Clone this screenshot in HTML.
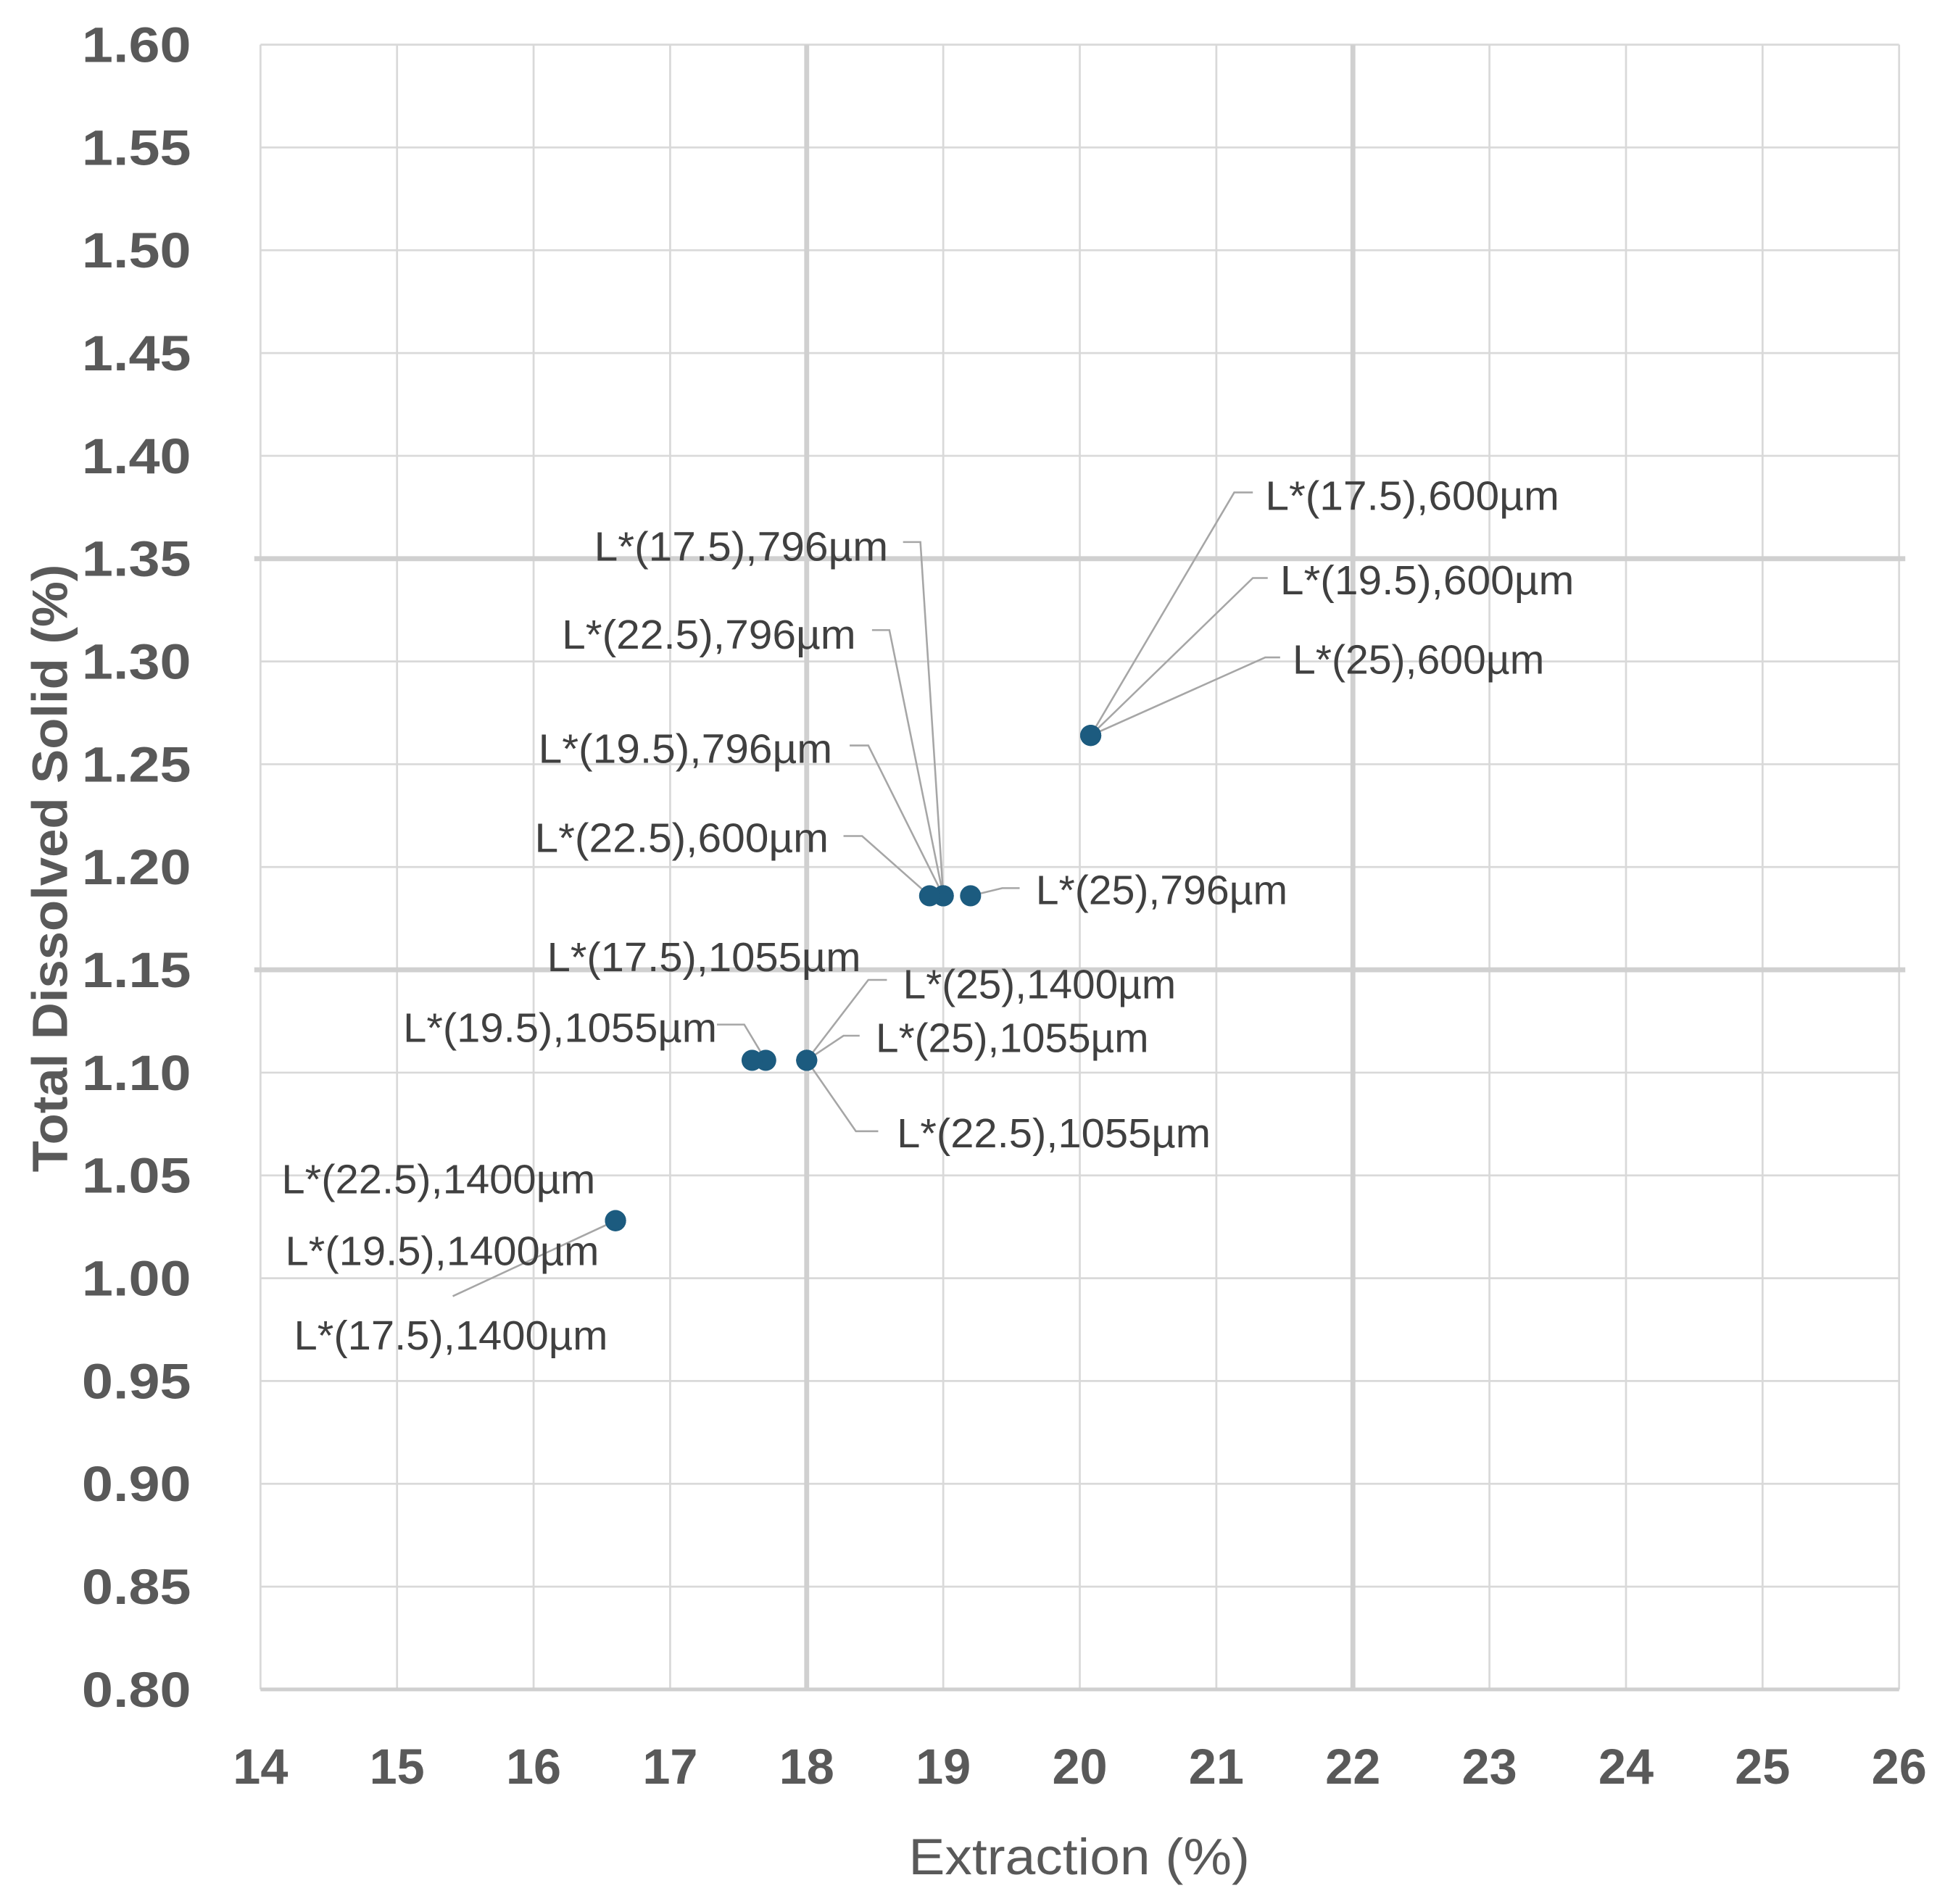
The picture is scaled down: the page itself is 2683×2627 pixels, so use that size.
<!DOCTYPE html>
<html><head><meta charset="utf-8"><style>
html,body{margin:0;padding:0;background:#fff}
svg{display:block}
text{font-family:"Liberation Sans",sans-serif}
</style></head><body>
<svg id="chart" width="2683" height="2627" viewBox="0 0 1568 1535" preserveAspectRatio="none" xmlns="http://www.w3.org/2000/svg">
<g id="grid"></g>
<g id="ticks"></g>
<g id="leaders"></g>
<g id="points"></g>
<g id="labels"></g>
<text transform="translate(54,700) rotate(-90)" text-anchor="middle" font-size="40" font-weight="bold" fill="#595959" textLength="490" lengthAdjust="spacingAndGlyphs">Total Dissolved Solid (%)</text>
<text x="870" y="1511" text-anchor="middle" font-size="41" fill="#595959" textLength="275" lengthAdjust="spacingAndGlyphs">Extraction (%)</text>
</svg>
<script>
const xTicks=[14,15,16,17,18,19,20,21,22,23,24,25,26];
const yTicks=[0.80,0.85,0.90,0.95,1.00,1.05,1.10,1.15,1.20,1.25,1.30,1.35,1.40,1.45,1.50,1.55,1.60];
const refX=[18,22];
const refY=[1.15,1.35];
const labelTexts=["L*(17.5),600µm","L*(19.5),600µm","L*(25),600µm","L*(17.5),796µm","L*(22.5),796µm","L*(19.5),796µm","L*(22.5),600µm","L*(25),796µm","L*(17.5),1055µm","L*(19.5),1055µm","L*(25),1400µm","L*(25),1055µm","L*(22.5),1055µm","L*(22.5),1400µm","L*(19.5),1400µm","L*(17.5),1400µm"];
const xValues=[20.08,20.08,20.08,19.0,19.0,19.0,18.9,19.2,17.7,17.6,18.0,18.0,18.0,16.6,16.6,16.6];
const yValues=[1.264,1.264,1.264,1.186,1.186,1.186,1.186,1.186,1.106,1.106,1.106,1.106,1.106,1.028,1.028,1.028];
// label layout (display units): text x, baseline y, anchor
const labelLayout=[[1020,411,"start"],[1032,479,"start"],[1042,543,"start"],[716,452,"end"],[690,523,"end"],[671,615,"end"],[668,687,"end"],[835,729,"start"],[441,783,"start"],[325,840,"start"],[728,805,"start"],[706,848,"start"],[723,925,"start"],[227,962,"start"],[230,1020,"start"],[237,1088,"start"]];
// leader elbow: start x, y, elbow x
const leaderLayout=[[1010,397,995],[1022,466,1010],[1032,530,1020],[728,437,742],[703,508,717],[685,601,700],[680,674,695],[822,716,808],[578,826,600],[null],[715,790,700],[693,835,680],[708,912,690],[null],[null],[365,1045,365]];

const L=210,R=1531,T=36,B=1362;
const xs=v=>L+(v-14)/(26-14)*(R-L);
const ys=v=>B-(v-0.8)/(1.6-0.8)*(B-T);
const NS="http://www.w3.org/2000/svg";
function mk(tag,attrs,parent){const e=document.createElementNS(NS,tag);for(const k in attrs)e.setAttribute(k,attrs[k]);parent.appendChild(e);return e;}
const grid=document.getElementById('grid'),ticks=document.getElementById('ticks'),leaders=document.getElementById('leaders'),pts=document.getElementById('points'),labs=document.getElementById('labels');
xTicks.forEach(v=>{
  const g=mk('line',{x1:xs(v),x2:xs(v),y1:T,y2:B,stroke:'#d9d9d9','stroke-width':1.6},grid);
  
  
  const t=mk('text',{x:xs(v),y:1438,'text-anchor':'middle','font-size':40,'font-weight':'bold',fill:'#595959'},ticks);
  t.textContent=v;
  
  
});
yTicks.forEach(v=>{
  const g=mk('line',{x1:L,x2:R,y1:ys(v),y2:ys(v),stroke:'#d9d9d9','stroke-width':1.6},grid);
  
  
  const t=mk('text',{x:154,y:ys(v)+14,'text-anchor':'end','font-size':40,'font-weight':'bold',fill:'#595959',textLength:88,lengthAdjust:'spacingAndGlyphs'},ticks);
  t.textContent=v.toFixed(2);
  
  
});
mk('line',{x1:L,x2:R,y1:B,y2:B,stroke:'#cfcfcf','stroke-width':3},grid);
refX.forEach(v=>{
  const g=mk('line',{x1:xs(v),x2:xs(v),y1:T,y2:B,stroke:'#d0d0d0','stroke-width':4},grid);
  
  
});
refY.forEach(v=>{
  const g=mk('line',{x1:205,x2:1536,y1:ys(v),y2:ys(v),stroke:'#d0d0d0','stroke-width':4},grid);
  
  
});
xValues.forEach((xv,i)=>{
  const px=xs(xv),py=ys(yValues[i]);
  const c=mk('circle',{cx:px,cy:py,r:8.5,fill:'#1c5b7f'},pts);
  
  
  const ll=leaderLayout[i];
  if(ll[0]!==null){
    const p=mk('polyline',{points:`${ll[0]},${ll[1]} ${ll[2]},${ll[1]} ${px},${py}`,fill:'none',stroke:'#a6a6a6','stroke-width':1.5},leaders);
    
    
  }
  const lay=labelLayout[i];
  const t=mk('text',{x:lay[0],y:lay[1],'text-anchor':lay[2],'font-size':33,fill:'#404040',textLength:(labelTexts[i].length*16.9).toFixed(0),lengthAdjust:'spacingAndGlyphs'},labs);
  t.textContent=labelTexts[i];
  
  
});
</script>
</body></html>
